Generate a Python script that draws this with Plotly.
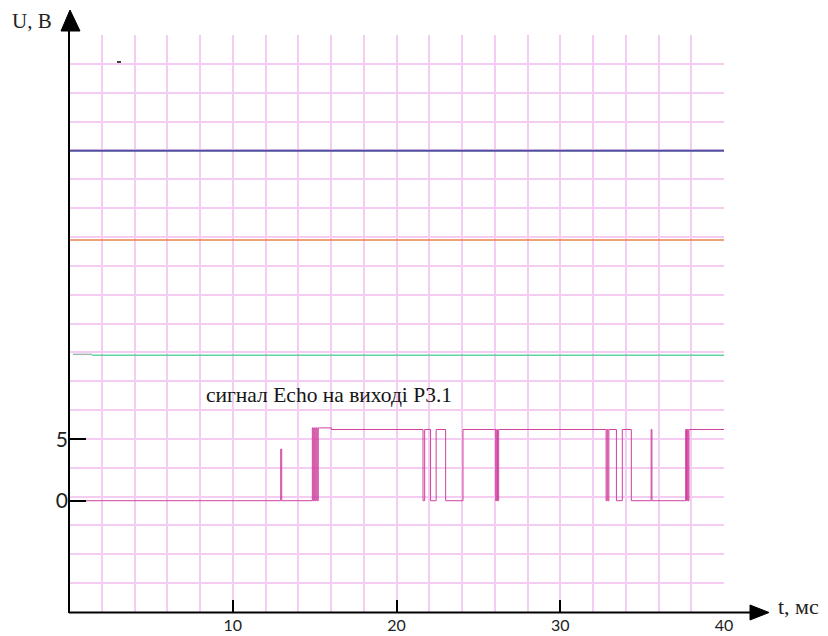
import plotly.graph_objects as go

# ---- data ----
# Echo signal (step, value holds until next time point), t in ms, U in V
t_signal = [0, 12.93, 12.99, 14.86, 14.92, 14.98, 15.04, 15.10, 15.16, 15.22, 15.28, 16.02,
            21.62, 21.72, 22.08, 22.42, 23.0, 24.06, 26.06, 26.12, 26.17, 26.24,
            32.80, 32.86, 32.91, 32.97, 33.43, 33.79, 34.34, 35.55, 35.60,
            37.66, 37.71, 37.76, 37.81, 37.86, 40]
u_signal = [0, 4.2, 0, 5.93, 0, 5.93, 0, 5.93, 0, 5.93, 5.93, 5.8,
            0, 5.8, 0, 5.8, 0, 5.8, 0, 5.8, 0, 5.8,
            0, 5.8, 0, 5.8, 0, 5.8, 0, 5.8, 0,
            5.8, 0, 5.8, 0, 5.8, 5.8]

# constant levels
t_range = [0, 40]
u_purple = [28.5, 28.5]
u_orange = [21.23, 21.23]
t_green = [1.4, 40]
u_green = [11.84, 11.84]
t_grey = [0.24, 1.4]
u_grey = [11.92, 11.92]

x_ticks = [10, 20, 30, 40]
y_ticks = [0, 5]
label_text = "сигнал Echo на виході P3.1"

# ---- figure ----
W, H = 828, 636
L, R, T, B = 69, 104, 35, 24
pw, ph = W - L - R, H - T - B

def px(x):
    return (x - L) / pw

def py(y):
    return (H - B - y) / ph

fig = go.Figure()
fig.add_trace(go.Scatter(x=t_range, y=u_purple, mode="lines",
                         line=dict(color="#4f4fa0", width=2), hoverinfo="skip"))
fig.add_trace(go.Scatter(x=t_range, y=u_orange, mode="lines",
                         line=dict(color="#e8834e", width=1.5), hoverinfo="skip"))
fig.add_trace(go.Scatter(x=t_grey, y=u_grey, mode="lines",
                         line=dict(color="#9fb8b0", width=1.5), hoverinfo="skip"))
fig.add_trace(go.Scatter(x=t_green, y=u_green, mode="lines",
                         line=dict(color="#5cd6a4", width=1.5), hoverinfo="skip"))
fig.add_trace(go.Scatter(x=t_signal, y=u_signal, mode="lines", line_shape="hv",
                         line=dict(color="#d0409e", width=1), hoverinfo="skip"))

grid_col = "#f5cdf2"
fig.update_xaxes(range=[0, 40], tickvals=x_ticks, ticks="inside", ticklen=12,
                 tickwidth=1.5, tickcolor="black", showgrid=False, zeroline=False,
                 showline=False, automargin=False, ticklabelstandoff=2,
                 tickfont=dict(family="Lato, Liberation Sans, sans-serif", size=16, color="#222"),
                 minor=dict(tick0=0, dtick=2, showgrid=True, gridcolor=grid_col,
                            gridwidth=1.5, ticks=""))
fig.update_yaxes(range=[-9.06, 37.92], tickvals=y_ticks, ticks="inside", ticklen=17,
                 tickwidth=1.5, tickcolor="black", showgrid=False, zeroline=False,
                 showline=False, automargin=False,
                 tickfont=dict(family="Lato, Liberation Sans, sans-serif", size=21, color="#222"),
                 minor=dict(tick0=-9.06, dtick=2.349, showgrid=True, gridcolor=grid_col,
                            gridwidth=1.5, ticks=""))

shapes = [
    # x axis line with arrow
    dict(type="line", xref="paper", yref="paper", x0=px(69), x1=px(752), y0=py(612.5), y1=py(612.5),
         line=dict(color="black", width=2), layer="above"),
    dict(type="path", xref="paper", yref="paper",
         path=f"M {px(750)} {py(605)} L {px(769)} {py(612.5)} L {px(750)} {py(620)} Z",
         fillcolor="black", line=dict(color="black", width=1), layer="above"),
    # y axis line with arrow
    dict(type="line", xref="paper", yref="paper", x0=px(69), x1=px(69), y0=py(613), y1=py(30),
         line=dict(color="black", width=2), layer="above"),
    dict(type="path", xref="paper", yref="paper",
         path=f"M {px(61)} {py(31)} L {px(70)} {py(10)} L {px(80)} {py(31)} Z",
         fillcolor="black", line=dict(color="black", width=1), layer="above"),
    # stray dash
    dict(type="line", xref="paper", yref="paper", x0=px(117), x1=px(121), y0=py(62), y1=py(62),
         line=dict(color="black", width=1.5)),
]

annotations = [
    dict(text="U, B", xref="paper", yref="paper", x=px(32), y=py(21), showarrow=False,
         xanchor="center", yanchor="middle",
         font=dict(family="Liberation Serif, serif", size=21, color="#222")),
    dict(text="t, мс", xref="paper", yref="paper", x=px(798), y=py(606), showarrow=False,
         xanchor="center", yanchor="middle",
         font=dict(family="Liberation Serif, serif", size=22, color="#222")),
    dict(text=label_text, x=15.85, y=8.6, showarrow=False, xanchor="center", yanchor="middle",
         font=dict(family="Liberation Serif, serif", size=21.5, color="#151515")),
]

fig.update_layout(width=W, height=H, margin=dict(l=L, r=R, t=T, b=B, autoexpand=False),
                  paper_bgcolor="white", plot_bgcolor="white", showlegend=False,
                  shapes=shapes, annotations=annotations)

fig.write_html("out.html", config={"displayModeBar": False},
               post_script="document.body.style.margin='0';document.body.style.overflow='hidden';")
